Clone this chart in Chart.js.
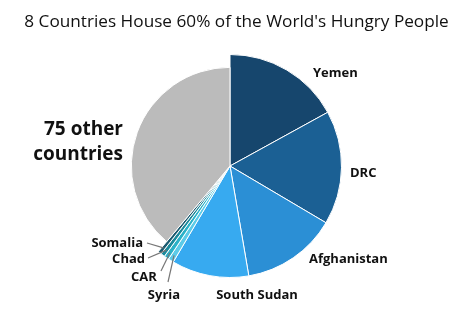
<!DOCTYPE html>
<html>
<head>
<meta charset="utf-8">
<script src="https://cdn.jsdelivr.net/npm/chart.js@4"></script>
<style>
  html, body { margin: 0; padding: 0; background: #fff; }
  #wrap { width: 474px; height: 316px; }
</style>
</head>
<body>
<div id="wrap"><canvas id="pieChart" width="474" height="316"></canvas></div>
<script>
// datos de la gráfica (porcentaje de personas con hambre)
var chartTitle = "8 Countries House 60% of the World's Hungry People";
var countries = ["Yemen", "DRC", "Afghanistan", "South Sudan", "Syria", "CAR", "Chad", "Somalia", "75 other countries"];
var shares = [17.0, 16.5, 13.8, 11.2, 0.8, 0.7, 0.6, 0.5, 38.9];
var colors = ["#16466d", "#1b6094", "#2b8fd5", "#37aaf0", "#5ccbe8", "#2bb2c8", "#1b8a9c", "#1c5b70", "#bbbbbb"];

// dónde va cada etiqueta (x, y, alineación, tamaño, línea guía)
var labelLayout = [
  { x: 313, y: 73, align: "left", size: 13 },
  { x: 350, y: 173, align: "left", size: 13 },
  { x: 309, y: 259, align: "left", size: 13 },
  { x: 257, y: 295, align: "center", size: 13 },
  { x: 164, y: 295, align: "center", size: 13, lx: 168, ly: 282 },
  { x: 144, y: 277, align: "center", size: 13, lx: 161, ly: 271 },
  { x: 145, y: 259, align: "right", size: 13, lx: 148, ly: 258 },
  { x: 143, y: 243, align: "right", size: 13, lx: 147, ly: 243 }
];
var othersLayout = { x: 123, y: 130, size: 19, lines: ["75 other", "countries"] };

// el gris se dibuja con un radio más chico
var shrinkOthers = {
  id: "shrinkOthers",
  afterDatasetsUpdate: function (chart) {
    var arc = chart.getDatasetMeta(0).data[8];
    if (arc) arc.outerRadius = arc.outerRadius * 0.885;
  }
};

var pieLabels = {
  id: "pieLabels",
  afterDraw: function (chart) {
    var ctx = chart.ctx;
    var arcs = chart.getDatasetMeta(0).data;
    ctx.save();
    ctx.fillStyle = "#111";
    ctx.textBaseline = "middle";
    // título
    ctx.font = "17.2px 'Open Sans', sans-serif";
    ctx.textAlign = "center";
    ctx.fillText(chartTitle, 236.5, 22);
    labelLayout.forEach(function (l, i) {
      var arc = arcs[i];
      if (l.lx !== undefined) {
        var mid = (arc.startAngle + arc.endAngle) / 2;
        var r = arc.outerRadius - 6;
        ctx.strokeStyle = "#777";
        ctx.lineWidth = 1.2;
        ctx.beginPath();
        ctx.moveTo(l.lx, l.ly);
        ctx.lineTo(arc.x + Math.cos(mid) * r, arc.y + Math.sin(mid) * r);
        ctx.stroke();
      }
      ctx.font = "bold " + l.size + "px 'Open Sans', sans-serif";
      ctx.textAlign = l.align;
      ctx.fillText(countries[i], l.x, l.y);
    });
    // etiqueta grande del gris
    ctx.font = "bold " + othersLayout.size + "px 'Open Sans', sans-serif";
    ctx.textAlign = "right";
    othersLayout.lines.forEach(function (t, k) {
      ctx.fillText(t, othersLayout.x, othersLayout.y + k * 25);
    });
    ctx.restore();
  }
};

var ctx1 = document.getElementById("pieChart").getContext("2d");
var myChart = new Chart(ctx1, {
  type: "pie",
  data: {
    labels: countries,
    datasets: [
      {
        data: shares,
        backgroundColor: colors,
        borderColor: "#ffffff",
        borderWidth: 1,
      },
    ],
  },
  options: {
    responsive: false,
    animation: false,
    layout: { padding: { left: 0, right: 14, top: 54, bottom: 38 } },
    plugins: {
      legend: { display: false },
      tooltip: { enabled: false },
      title: { display: false },
    },
  },
  plugins: [shrinkOthers, pieLabels],
});
</script>
</body>
</html>
